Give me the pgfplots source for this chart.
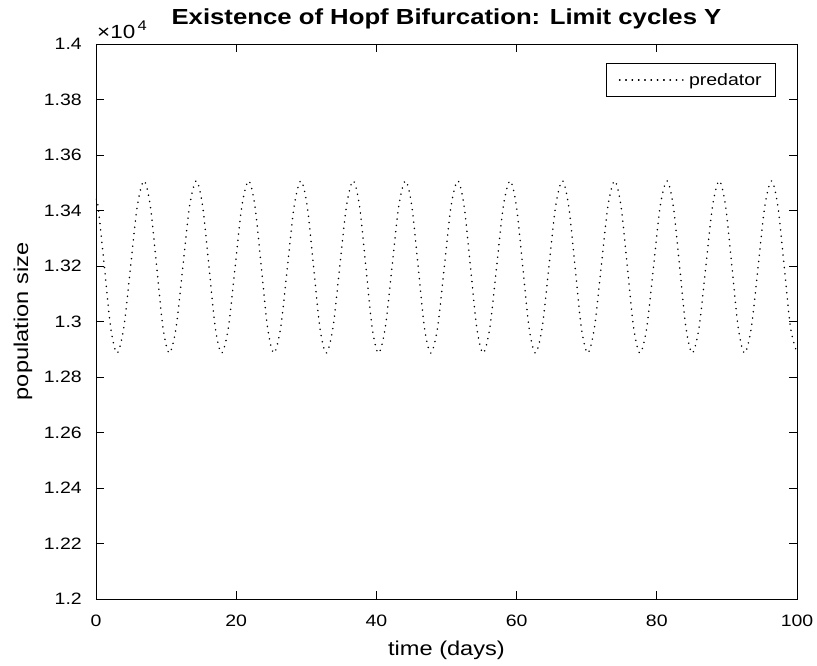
\documentclass[border=0pt]{standalone}
\usepackage{fontspec}
\setmainfont{Liberation Sans}[FakeStretch=1.18]
\usepackage{pgfplots}
\pgfplotsset{compat=1.18}
\begin{document}
\begin{tikzpicture}
\useasboundingbox (-96pt,-67pt) rectangle (721pt,599pt);
\begin{axis}[
  name=ax,
  at={(0pt,0pt)}, anchor=south west,
  scale only axis, width=701pt, height=555pt,
  xmin=0, xmax=100, ymin=12000, ymax=14000,
  xtick={0,20,...,100},
  ytick={12000,12200,...,14000},
  scaled y ticks=false,
  /pgf/number format/assume math mode=true,
  yticklabel={\pgfmathparse{\tick/10000}\pgfmathprintnumber[fixed,precision=2]{\pgfmathresult}},
  tick align=inside,
  major tick length=8pt,
  axis line style={line width=0.9pt, black},
  every tick/.style={line width=0.9pt, black},
  tick label style={font=\fontsize{16.5}{18}\selectfont},
  xticklabel style={anchor=base, inner sep=0pt, yshift=-27.7pt},
  yticklabel style={anchor=east, inner sep=0pt, xshift=-14pt},
  xlabel={time (days)},
  ylabel={population size},
  label style={font=\fontsize{20}{22}\selectfont},
  xlabel style={at={(axis description cs:0.5,-0.1027)}, anchor=base, inner sep=0pt},
  ylabel style={at={(axis description cs:-0.097,0.5)}, anchor=base, inner sep=0pt},
  title={Existence of Hopf Bifurcation: Limit cycles Y},
  title style={at={(axis description cs:0.5,1.0252)}, anchor=base, inner sep=0pt, font=\bfseries\fontsize{21.8}{24}\selectfont},
  legend style={at={(axis description cs:1,1)}, anchor=north east, xshift=-21pt, yshift=-19pt,
    draw=black, line width=0.8pt, font=\fontsize{16.5}{18}\selectfont,
    inner xsep=12pt, inner ysep=8pt},
  legend cell align=left,
  legend image code/.code={\draw[#1] (0pt,0pt) -- (60pt,0pt); \path (0pt,0pt) -- (66.5pt,0pt);},
]
\addplot[black, line width=1.7pt, dash pattern=on 0.01pt off 6.3pt, line cap=round, smooth] coordinates {
(0,13440)(0.29,13416)(1.20,13197)(2.10,12977)
(3.00,12886)(3.96,12977)(4.93,13197)(5.89,13416)(6.85,13507)(7.75,13416)(8.66,13197)(9.56,12977)
(10.46,12886)(11.42,12977)(12.39,13197)(13.35,13416)(14.31,13507)(15.21,13416)(16.12,13197)(17.02,12977)
(17.92,12886)(18.88,12977)(19.85,13197)(20.81,13416)(21.77,13507)(22.67,13416)(23.58,13197)(24.48,12977)
(25.38,12886)(26.34,12977)(27.31,13197)(28.27,13416)(29.23,13507)(30.13,13416)(31.04,13197)(31.94,12977)
(32.84,12886)(33.80,12977)(34.77,13197)(35.73,13416)(36.69,13507)(37.59,13416)(38.50,13197)(39.40,12977)
(40.30,12886)(41.26,12977)(42.23,13197)(43.19,13416)(44.15,13507)(45.05,13416)(45.96,13197)(46.86,12977)
(47.76,12886)(48.72,12977)(49.69,13197)(50.65,13416)(51.61,13507)(52.51,13416)(53.42,13197)(54.32,12977)
(55.22,12886)(56.18,12977)(57.15,13197)(58.11,13416)(59.07,13507)(59.97,13416)(60.88,13197)(61.78,12977)
(62.68,12886)(63.64,12977)(64.61,13197)(65.57,13416)(66.53,13507)(67.43,13416)(68.34,13197)(69.24,12977)
(70.14,12886)(71.10,12977)(72.07,13197)(73.03,13416)(73.99,13507)(74.89,13416)(75.80,13197)(76.70,12977)
(77.60,12886)(78.56,12977)(79.53,13197)(80.49,13416)(81.45,13507)(82.35,13416)(83.26,13197)(84.16,12977)
(85.06,12886)(86.02,12977)(86.99,13197)(87.95,13416)(88.91,13507)(89.81,13416)(90.72,13197)(91.62,12977)
(92.52,12886)(93.48,12977)(94.45,13197)(95.41,13416)(96.37,13507)(97.27,13416)(98.18,13197)(99.08,12977)
(100.00,12887)
};
\addlegendentry{predator\hspace{4pt}}
\end{axis}
\node[anchor=base west, inner sep=0pt, font=\fontsize{19}{21}\selectfont] at ([xshift=1pt, yshift=5pt]ax.north west) {×10\raisebox{8pt}{\fontsize{14}{15}\selectfont\,4}};
\end{tikzpicture}
\end{document}
